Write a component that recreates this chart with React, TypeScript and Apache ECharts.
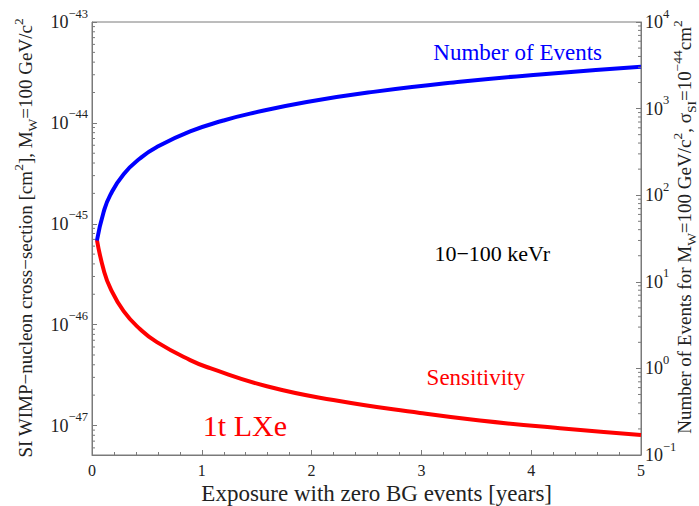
import React, { useEffect, useRef } from 'react';
import * as echarts from 'echarts';

const FONT = '"Liberation Serif", "DejaVu Serif", "Times New Roman", serif';

// Number of events (right axis) vs exposure [years]
const eventsX = [0.045, 0.106, 0.167, 0.288, 0.439, 0.591, 0.894, 1.197, 1.44, 1.956, 2.562, 3.351, 4.079, 5];
const eventsY = [30, 64, 101, 175, 267, 360, 545, 728, 875, 1190, 1560, 2040, 2480, 3040];

// Sensitivity [cm^2] (left axis) vs exposure [years]
const sensX = [0.045, 0.106, 0.167, 0.288, 0.439, 0.591, 0.894, 1.076, 1.592, 2.198, 2.987, 3.533, 4.262, 5];
const sensY = [6.9e-46, 3.5e-46, 2.3e-46, 1.36e-46, 9.0e-47, 6.7e-47, 4.45e-47, 3.7e-47, 2.45e-47, 1.79e-47, 1.33e-47, 1.12e-47, 9.4e-48, 8.07e-48];

const xRange = [0, 5];
const leftRange = [5.1e-48, 1e-43];
const rightRange = [0.1, 1e4];
const leftDecades = [-48, -47, -46, -45, -44];
const rightDecades = [-1, 0, 1, 2, 3];
const minorMultipliers = [2, 3, 4, 5, 6, 7, 8, 9];

// ECharts rounds tiny numbers to 20 decimals, so the left axis works in units of 1e-48 cm^2
const LEFT_EXP = 48;
const toLeft = (v: number) => v * Math.pow(10, LEFT_EXP);

const AXIS_COLOR = '#7a7a7a';
const LABEL_COLOR = '#222';

function minorValues(decades: number[], range: number[]) {
  const out: number[] = [];
  decades.forEach((d) => {
    minorMultipliers.forEach((m) => {
      const v = m * Math.pow(10, d);
      if (v > range[0] * 1.0001 && v < range[1] * 0.9999) out.push(v);
    });
  });
  return out;
}

function powLabel(shift: number) {
  return (v: number) => {
    const l = Math.log10(v);
    const e = Math.round(l);
    if (Math.abs(l - e) > 1e-6) return '';
    const p = e - shift;
    return `{b|10}{s|${p < 0 ? '\u2212' : ''}${Math.abs(p)}}`;
  };
}

const labelRich = {
  b: { fontSize: 18, fontFamily: FONT, color: LABEL_COLOR, lineHeight: 30 },
  s: { fontSize: 12.5, fontFamily: FONT, color: LABEL_COLOR, lineHeight: 13, verticalAlign: 'top' },
};

function minorTickSeries(yAxisIndex: number, values: number[], side: 'left' | 'right') {
  return {
    type: 'custom',
    coordinateSystem: 'cartesian2d',
    xAxisIndex: 0,
    yAxisIndex,
    silent: true,
    clip: false,
    z: 5,
    encode: { x: 0, y: 1 },
    data: values.map((v) => [0, v]),
    renderItem: (params: any, api: any) => {
      const p = api.coord([0, api.value(1)]);
      const cs = params.coordSys;
      const x0 = side === 'left' ? cs.x : cs.x + cs.width;
      const dx = side === 'left' ? 3 : -3;
      return {
        type: 'line',
        shape: { x1: x0, y1: p[1], x2: x0 + dx, y2: p[1] },
        style: { stroke: AXIS_COLOR, lineWidth: 1 },
      };
    },
  };
}

const titleRich = (color: string) => ({
  n: { fontSize: 19, fontFamily: FONT, fill: color, lineHeight: 28 },
  sup: { fontSize: 13.5, fontFamily: FONT, fill: color, lineHeight: 13, verticalAlign: 'top' },
  sub: { fontSize: 13.5, fontFamily: FONT, fill: color, lineHeight: 13, verticalAlign: 'bottom' },
});

function textEl(text: string, x: number, y: number, size: number, color: string, align = 'center') {
  return {
    type: 'text',
    x,
    y,
    silent: true,
    style: {
      text,
      fill: color,
      fontSize: size,
      fontFamily: FONT,
      align,
      verticalAlign: 'middle',
      textAlign: align,
      textVerticalAlign: 'middle',
    },
  };
}

export default function App() {
  const ref = useRef<HTMLDivElement>(null);
  useEffect(() => {
    document.body.style.margin = '0';
    const chart = echarts.init(ref.current!, null, { renderer: 'svg' });
    const axisCommon = {
      axisLine: { show: true, lineStyle: { color: AXIS_COLOR, width: 1 } },
      splitLine: { show: false },
    };
    chart.setOption({
      animation: false,
      backgroundColor: '#fff',
      grid: { left: 92, right: 58, top: 22, bottom: 51, show: true, borderColor: AXIS_COLOR, borderWidth: 1 },
      xAxis: {
        type: 'value',
        min: xRange[0],
        max: xRange[1],
        interval: 1,
        ...axisCommon,
        axisTick: { show: true, inside: true, length: 5, lineStyle: { color: AXIS_COLOR } },
        minorTick: { show: true, splitNumber: 5, length: 3, lineStyle: { color: AXIS_COLOR } },
        axisLabel: { fontSize: 16, fontFamily: FONT, color: LABEL_COLOR, margin: 7 },
      },
      yAxis: [
        {
          type: 'log',
          position: 'left',
          min: toLeft(leftRange[0]),
          max: toLeft(leftRange[1]),
          ...axisCommon,
          axisTick: { show: true, inside: true, length: 5, lineStyle: { color: AXIS_COLOR } },
          axisLabel: { formatter: powLabel(LEFT_EXP), rich: labelRich, margin: 4 },
        },
        {
          type: 'log',
          position: 'right',
          min: rightRange[0],
          max: rightRange[1],
          ...axisCommon,
          axisTick: { show: true, inside: true, length: 5, lineStyle: { color: AXIS_COLOR } },
          axisLabel: { formatter: powLabel(0), rich: labelRich, margin: 4 },
        },
      ],
      series: [
        {
          name: 'Sensitivity',
          type: 'line',
          yAxisIndex: 0,
          data: sensX.map((x, i) => [x, toLeft(sensY[i])]),
          showSymbol: false,
          smooth: 0.5,
          lineStyle: { color: '#ff0000', width: 4 },
          itemStyle: { color: '#ff0000' },
          z: 3,
        },
        {
          name: 'Number of Events',
          type: 'line',
          yAxisIndex: 1,
          data: eventsX.map((x, i) => [x, eventsY[i]]),
          showSymbol: false,
          smooth: 0.5,
          lineStyle: { color: '#0000ff', width: 4 },
          itemStyle: { color: '#0000ff' },
          z: 4,
        },
        minorTickSeries(0, minorValues(leftDecades, leftRange).map(toLeft), 'left'),
        minorTickSeries(1, minorValues(rightDecades, rightRange), 'right'),
      ],
      graphic: [
        textEl('Number of Events', 602, 52, 23, '#0000ff', 'right'),
        textEl('10\u2212100 keVr', 550, 253, 22, '#000000', 'right'),
        textEl('Sensitivity', 525, 377, 23, '#ff0000', 'right'),
        textEl('1t LXe', 287, 425, 30, '#ff0000', 'right'),
        textEl('Exposure with zero BG events [years]', 552, 493, 23, LABEL_COLOR, 'right'),
        {
          type: 'text',
          x: 25,
          y: 238,
          rotation: Math.PI / 2,
          silent: true,
          style: {
            text: '{n|SI WIMP\u2212nucleon cross\u2212section [cm}{sup|2}{n|], M}{sub|W}{n|=100 GeV/c}{sup|2}',
            rich: titleRich(LABEL_COLOR),
            align: 'center',
            verticalAlign: 'middle',
            textAlign: 'center',
            textVerticalAlign: 'middle',
          },
        },
        {
          type: 'text',
          x: 684,
          y: 227,
          rotation: Math.PI / 2,
          silent: true,
          style: {
            text: '{n|Number of Events for M}{sub|W}{n|=100 GeV/c}{sup|2}{n|, \u03c3}{sub|SI}{n|=10}{sup|\u221244}{n|cm}{sup|2}',
            rich: titleRich(LABEL_COLOR),
            align: 'center',
            verticalAlign: 'middle',
            textAlign: 'center',
            textVerticalAlign: 'middle',
          },
        },
      ],
    });
    return () => chart.dispose();
  }, []);
  return <div ref={ref} style={{ width: 699, height: 506 }} />;
}
